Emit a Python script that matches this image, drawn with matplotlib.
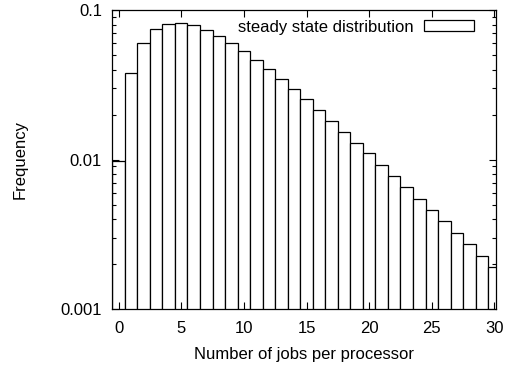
import matplotlib
matplotlib.use('Agg')
import matplotlib.pyplot as plt
import matplotlib.patches as mpatches
from matplotlib.ticker import FixedLocator, FixedFormatter, LogLocator, NullFormatter

plt.rcParams['font.family'] = ['Liberation Sans', 'DejaVu Sans']
plt.rcParams['font.size'] = 12

# steady state distribution of jobs per processor
jobs = list(range(0, 31))
freq = [0.00985, 0.0382, 0.0601, 0.0746, 0.0810, 0.0826, 0.0797, 0.0742,
        0.0676, 0.0601, 0.0534, 0.0463, 0.0403, 0.0345, 0.0296, 0.0254,
        0.0215, 0.0182, 0.0154, 0.0130, 0.0110, 0.00922, 0.00778, 0.00654,
        0.00548, 0.00458, 0.00385, 0.00323, 0.00270, 0.00227, 0.00191]

y_ticks = [0.001, 0.01, 0.1]
y_labels = ['0.001', '0.01', '0.1']
x_ticks = [0, 5, 10, 15, 20, 25, 30]

fig = plt.figure(figsize=(5.2, 3.65), dpi=100)
ax = fig.add_axes([0.2148, 0.1534, 0.7385, 0.8184])

ax.set_yscale('log')
ax.bar(jobs, freq, width=1.0, bottom=1e-5, facecolor='white',
       edgecolor='black', linewidth=0.9)

ax.set_xlim(-0.55, 30.1)
ax.set_ylim(0.001, 0.1)

ax.xaxis.set_major_locator(FixedLocator(x_ticks))
ax.yaxis.set_major_locator(FixedLocator(y_ticks))
ax.yaxis.set_major_formatter(FixedFormatter(y_labels))
ax.yaxis.set_minor_locator(LogLocator(base=10, subs=range(2, 10)))
ax.yaxis.set_minor_formatter(NullFormatter())

ax.tick_params(which='both', direction='in', top=True, right=True,
               width=0.8, colors='black', labelsize=12)
ax.tick_params(which='major', length=5, pad=7)
ax.tick_params(which='minor', length=3)
ax.tick_params(axis='x', which='major', pad=8.5)
for sp in ax.spines.values():
    sp.set_linewidth(0.9)

ax.set_xlabel('Number of jobs per processor', fontsize=12, labelpad=8)
ax.set_ylabel('Frequency', fontsize=12, labelpad=24)

handle = mpatches.Patch(facecolor='white', edgecolor='black', linewidth=0.9)
ax.legend([handle], ['steady state distribution'], loc='center right',
          bbox_to_anchor=(0.944, 0.944), frameon=False, markerfirst=False,
          borderpad=0, borderaxespad=0, handlelength=3.0, handleheight=0.6,
          handletextpad=0.65, fontsize=12)

fig.savefig('out.png', dpi=100)
